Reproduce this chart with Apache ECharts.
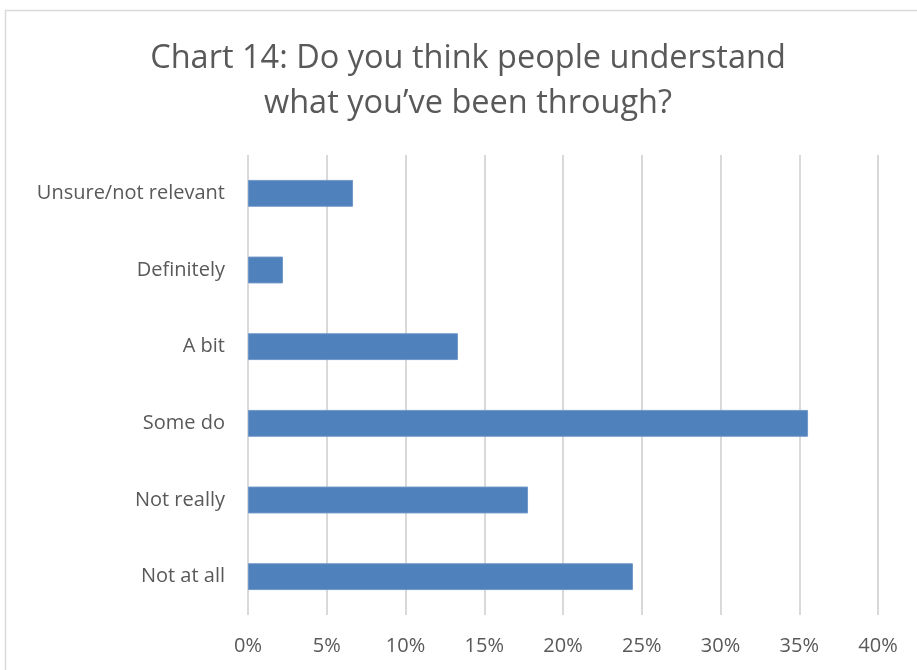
<!DOCTYPE html>
<html><head><meta charset="utf-8">
<script src="https://cdn.jsdelivr.net/npm/echarts@6/dist/echarts.min.js"></script>
<style>html,body{margin:0;padding:0;background:#fff}#c{width:917px;height:670px}</style>
</head><body><div id="c"></div>
<script>
var categories = ['Not at all', 'Not really', 'Some do', 'A bit', 'Definitely', 'Unsure/not relevant'];
var values = [24.44, 17.78, 35.56, 13.33, 2.22, 6.67];
var titleText = 'Chart 14: Do you think people understand\nwhat you\u2019ve been through?';
var chart = echarts.init(document.getElementById('c'));
var font = '"Open Sans", Lato, sans-serif';
chart.setOption({
  animation: false,
  backgroundColor: '#fff',
  graphic: [{type: 'rect', shape: {x: 5.5, y: 10.5, width: 930, height: 680}, style: {fill: 'none', stroke: '#d9d9d9', lineWidth: 1.5}}],
  title: {text: titleText, left: 463, top: 31, textAlign: 'center', textStyle: {fontFamily: font, fontSize: 32.5, fontWeight: 'normal', color: '#595959', lineHeight: 45}},
  grid: {left: 248, right: 39, top: 155, bottom: 55},
  xAxis: {type: 'value', min: 0, max: 40, interval: 5,
    axisLabel: {formatter: '{value}%', fontFamily: font, fontSize: 20, color: '#595959', margin: 21},
    splitLine: {lineStyle: {color: '#d9d9d9', width: 2}}, axisLine: {show: false}, axisTick: {show: false}},
  yAxis: {type: 'category', data: categories,
    axisLabel: {fontFamily: font, fontSize: 20, color: '#595959', margin: 23},
    axisLine: {show: false}, axisTick: {show: false}},
  series: [{type: 'bar', data: values, barCategoryGap: '65%', itemStyle: {color: '#4f81bd', borderColor: '#6f97c8', borderWidth: 1}}]
});
</script></body></html>
